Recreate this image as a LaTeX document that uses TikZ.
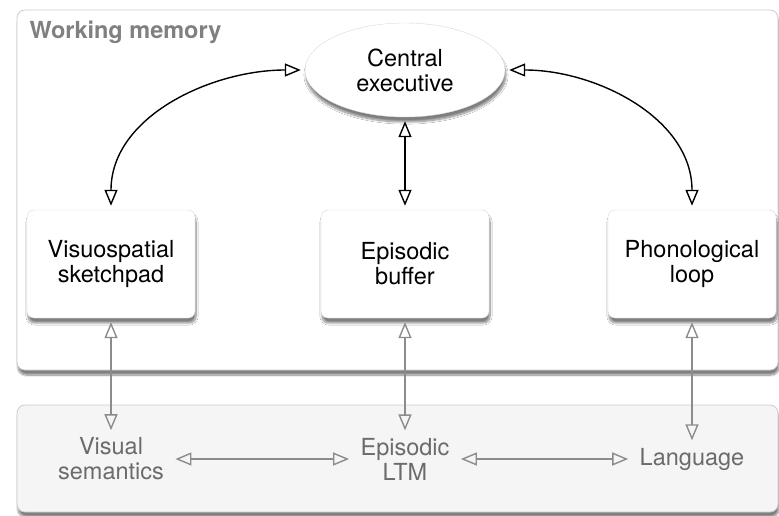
\documentclass[tikz,border=0pt]{standalone}
\usepackage{fontspec}
\setmainfont{TeX Gyre Heros}
\usetikzlibrary{arrows.meta,shapes.geometric,shadows.blur}

\begin{document}
\begin{tikzpicture}[
    x=1pt, y=1pt,
    every node/.style={font=\fontsize{23.5}{25}\selectfont, align=center},
    softshadow/.style={blur shadow={shadow xshift=1pt, shadow yshift=-5pt, shadow blur steps=10, shadow opacity=50}},
    frame/.style={rounded corners=8pt, draw=black!20, line width=0.8pt},
    module/.style={draw=black!15, fill=white, rounded corners=7pt,
        minimum width=168pt, minimum height=108pt, softshadow},
    exec/.style={ellipse, draw=black!15, fill=white,
        minimum width=200pt, minimum height=94pt, softshadow},
    store/.style={text=black!58},
    link/.style={line width=1.4pt, shorten <=4pt, shorten >=4pt,
        {Triangle[open,length=16pt,width=13pt]}-{Triangle[open,length=16pt,width=13pt]}},
    storelink/.style={link, draw=black!45}
    ]
    \useasboundingbox (0,0) rectangle (779,515);
    \draw[frame, fill=black!4, softshadow] (17,3) rectangle (778,110);
    \draw[frame, fill=white, softshadow] (17,145) rectangle (778,505);
    \node (title) [anchor=west, text=black!50, font=\fontsize{23.5}{25}\selectfont\bfseries] at (26,483) {Working memory};

    \node (ce) [exec] at (405,445) {Central\\executive};
    \node (vis) [module] at (111,251) {Visuospatial\\sketchpad};
    \node (epi) [module] at (405,251) {Episodic\\buffer};
    \node (pho) [module] at (692,251) {Phonological\\loop};

    \node (vsem) [store] at (111,56) {Visual\\semantics};
    \node (eltm) [store] at (405,56) {Episodic\\LTM};
    \node (lang) [store] at (692,56) {Language};

    \draw[link] (vis.north) to[out=90, in=180] (ce.west);
    \draw[link] (ce.east) to[out=0, in=90] (pho.north);
    \draw[link] (ce.south) -- (epi.north);

    \draw[storelink] (vis.south) -- (vsem.north);
    \draw[storelink] (epi.south) -- (eltm.north);
    \draw[storelink] (pho.south) -- (lang.north);
    \draw[storelink, shorten <=8pt, shorten >=8pt] (vsem.east) -- (eltm.west);
    \draw[storelink, shorten <=8pt, shorten >=8pt] (eltm.east) -- (lang.west);
\end{tikzpicture}
\end{document}
